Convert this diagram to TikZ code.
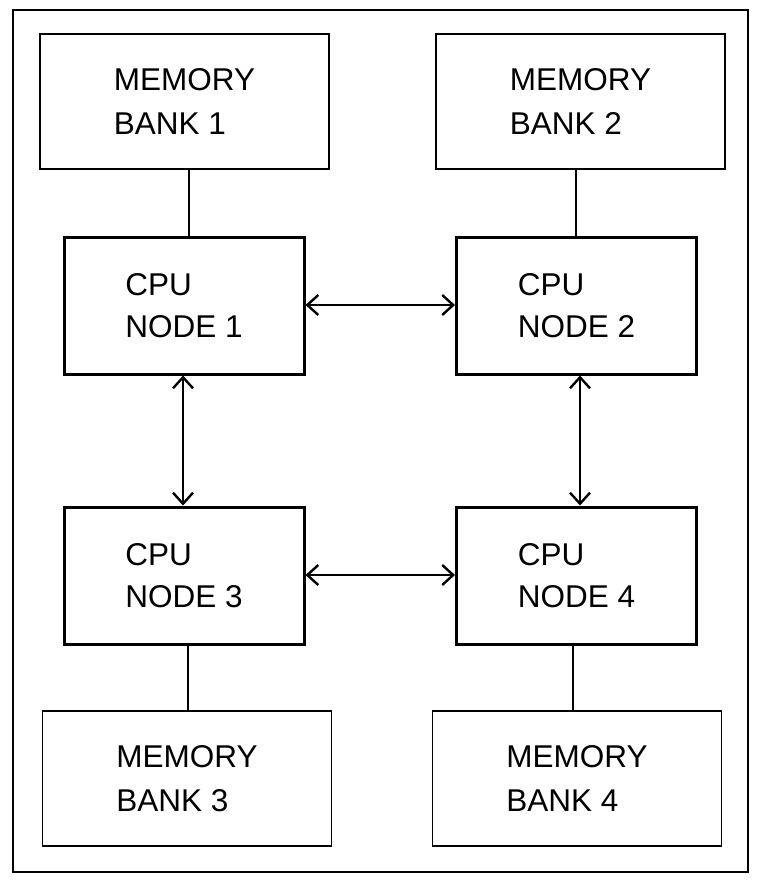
\documentclass[tikz,border=0pt]{standalone}
\usepackage{fontspec}
\setmainfont{Liberation Sans}
\usetikzlibrary{arrows.meta}
\begin{document}
\begin{tikzpicture}[x=1pt,y=-1pt,
  mem/.style={draw,line width=1.3pt,minimum width=289pt,minimum height=135pt,align=left,font=\fontsize{31.5}{44}\selectfont,inner sep=0pt},
  cpu/.style={draw,line width=3pt,minimum width=240pt,minimum height=137pt,align=left,font=\fontsize{31.5}{42}\selectfont,inner sep=0pt},
  ln/.style={line width=1.3pt},
  arr/.style={line width=2pt,{Straight Barb[length=11pt,width=20pt,line width=2.4pt]}-{Straight Barb[length=11pt,width=20pt,line width=2.4pt]}}]
\useasboundingbox (0,0) rectangle (760,888);
\draw[line width=1.5pt] (13,10) rectangle (748,872);
\node[mem] (m1) at (184.5,101.5) {MEMORY\\BANK 1};
\node[mem] (m2) at (580.5,101.5) {MEMORY\\BANK 2};
\node[cpu] (c1) at (184,305.5) {CPU\\NODE 1};
\node[cpu] (c2) at (576.5,305.5) {CPU\\NODE 2};
\node[cpu] (c3) at (184,575.5) {CPU\\NODE 3};
\node[cpu] (c4) at (576.5,575.5) {CPU\\NODE 4};
\node[mem] (m3) at (187,778.5) {MEMORY\\BANK 3};
\node[mem] (m4) at (577,778.5) {MEMORY\\BANK 4};
\draw[ln] (m1.south -| 189,0) -- (c1.north -| 189,0);
\draw[ln] (m2.south -| 576,0) -- (c2.north -| 576,0);
\draw[ln] (c3.south -| 188,0) -- (m3.north -| 188,0);
\draw[ln] (c4.south -| 573,0) -- (m4.north -| 573,0);
\draw[arr] (c1.east |- 0,305) -- (c2.west |- 0,305);
\draw[arr] (c3.east |- 0,575) -- (c4.west |- 0,575);
\draw[arr] (c1.south -| 183,0) -- (c3.north -| 183,0);
\draw[arr] (c2.south -| 580,0) -- (c4.north -| 580,0);
\end{tikzpicture}
\end{document}
